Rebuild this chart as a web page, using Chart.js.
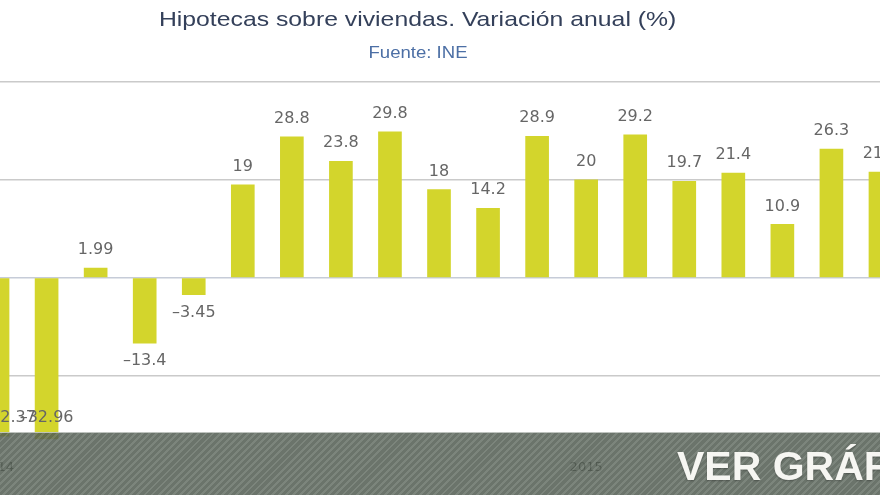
<!DOCTYPE html>
<html>
<head>
<meta charset="utf-8">
<script src="https://cdn.jsdelivr.net/npm/chart.js@4.4.1/dist/chart.umd.min.js"></script>
<style>
  html, body { margin: 0; padding: 0; background: #fff; }
  body { width: 880px; height: 495px; overflow: hidden; position: relative; font-family: "Liberation Sans", Arial, sans-serif; }
  #myChart { position: absolute; left: -27px; top: 0; }
  .title { position: absolute; top: 7px; left: 0; width: 835px; text-align: center; font-size: 21px; color: #34405a; transform: scaleX(1.18); transform-origin: 417px 0; }
  .subtitle { position: absolute; top: 44px; left: 0; width: 836px; text-align: center; font-size: 16px; color: #4c6fa5; transform: scaleX(1.16); transform-origin: 418px 0; }
  .band {
    position: absolute; left: 0; top: 432px; width: 880px; height: 63px;
    border-top: 1px solid rgba(210, 214, 210, 0.8);
    background:
      repeating-linear-gradient(135deg, rgba(255,255,255,0.08) 0 2px, rgba(0,0,0,0.06) 2px 5px),
      rgba(88, 100, 88, 0.85);
  }
  .band span {
    position: absolute; left: 677px; top: 10px; white-space: nowrap;
    font-size: 41px; font-weight: bold; color: #f6f6f2;
    text-shadow: 0 1px 2px rgba(0,0,0,0.3);
  }
</style>
</head>
<body>
<canvas id="myChart" width="932" height="495"></canvas>
<div class="title">Hipotecas sobre viviendas. Variación anual (%)</div>
<div class="subtitle">Fuente: INE</div>
<div class="band"><span>VER GRÁFICO</span></div>
<script>
// monthly data, Jan 2014 - Jul 2015
const months = ["ene 2014", "feb 2014", "mar 2014", "abr 2014", "may 2014", "jun 2014",
  "jul 2014", "ago 2014", "sep 2014", "oct 2014", "nov 2014", "dic 2014",
  "ene 2015", "feb 2015", "mar 2015", "abr 2015", "may 2015", "jun 2015", "jul 2015"];
const variation = [-32.37, -32.96, 1.99, -13.4, -3.45, 19, 28.8, 23.8, 29.8, 18, 14.2, 28.9,
  20, 29.2, 19.7, 21.4, 10.9, 26.3, 21.6];
const yearLabels = ["2014", "", "", "", "", "", "", "", "", "", "", "",
  "2015", "", "", "", "", "", ""];
const yTicks = [40, 20, 0, -20];

// value labels above / below the bars
const barLabels = {
  id: "barLabels",
  afterDatasetsDraw(chart) {
    const ctx = chart.ctx;
    const area = chart.chartArea;
    const meta = chart.getDatasetMeta(0);
    ctx.save();
    ctx.font = "16px 'DejaVu Sans'";
    ctx.fillStyle = "#666666";
    ctx.textAlign = "center";
    ctx.textBaseline = "middle";
    meta.data.forEach((bar, i) => {
      const v = variation[i];
      const text = String(v).replace("-", "\u2013");
      let y = v >= 0 ? bar.y - 18 : bar.y + 18;
      if (y > area.bottom - 34) y = area.bottom - 34;
      const w = ctx.measureText(text).width;
      // justify like highcharts: keep label inside the plot
      let x = Math.max(bar.x, area.left + 9 + w / 2);
      ctx.fillText(text, x, y);
    });
    ctx.restore();
  }
};

const ctx = document.getElementById("myChart").getContext("2d");
const myChart = new Chart(ctx, {
  type: "bar",
  data: {
    labels: months,
    datasets: [{
      label: "Variación anual (%)",
      data: variation,
      backgroundColor: "#d3d52c",
      barThickness: 23
    }]
  },
  options: {
    responsive: false,
    animation: false,
    layout: { padding: { top: 82, bottom: 12, left: 0, right: 0 } },
    plugins: {
      legend: { display: false },
      tooltip: { enabled: false }
    },
    scales: {
      x: {
        grid: { display: false, drawTicks: false },
        border: { display: false },
        ticks: {
          autoSkip: false,
          maxRotation: 0,
          padding: 8,
          color: "#4a4a4a",
          font: { family: "DejaVu Sans", size: 13 },
          callback: (val, i) => yearLabels[i]
        }
      },
      y: {
        min: -35.5,
        max: 40,
        afterBuildTicks: (scale) => { scale.ticks = yTicks.map(v => ({ value: v })); },
        grid: {
          drawTicks: false,
          color: (c) => c.tick && c.tick.value === 0 ? "#c6ccd8" : "#cacaca",
          lineWidth: 1.5
        },
        border: { display: false },
        ticks: { display: false }
      }
    }
  },
  plugins: [barLabels]
});
</script>
</body>
</html>
